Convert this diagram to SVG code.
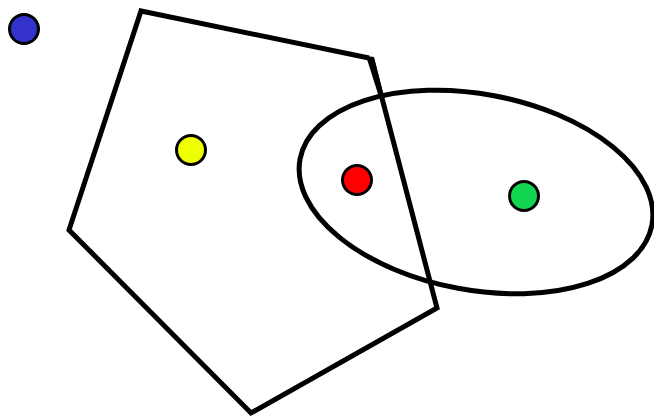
<svg xmlns="http://www.w3.org/2000/svg" width="654" height="419" viewBox="0 0 654 419">
<style>
.shape{fill:none;stroke:#000;stroke-width:5;stroke-linejoin:miter}
.dot{stroke:#000;stroke-width:3}
</style>
<rect width="654" height="419" fill="#fff"/>
<g id="pentagon">
<polyline class="shape" points="372,60 437,308 251,413 69,230 141,11 369,58"/>
<polygon points="366,56 374,57 383,94 378,94" fill="#000"/>
</g>
<g id="ellipse">
<ellipse class="shape" cx="476" cy="192" rx="179" ry="98" transform="rotate(10.6 476 192)"/>
</g>
<g id="blue"><circle class="dot" cx="24" cy="29" r="14.5" fill="#3333cc"/></g>
<g id="yellow"><circle class="dot" cx="191" cy="150" r="14.5" fill="#eeff00"/></g>
<g id="red"><circle class="dot" cx="357" cy="180" r="14.5" fill="#ff0000"/></g>
<g id="green"><circle class="dot" cx="524" cy="196" r="14.5" fill="#11d44f"/></g>
</svg>
